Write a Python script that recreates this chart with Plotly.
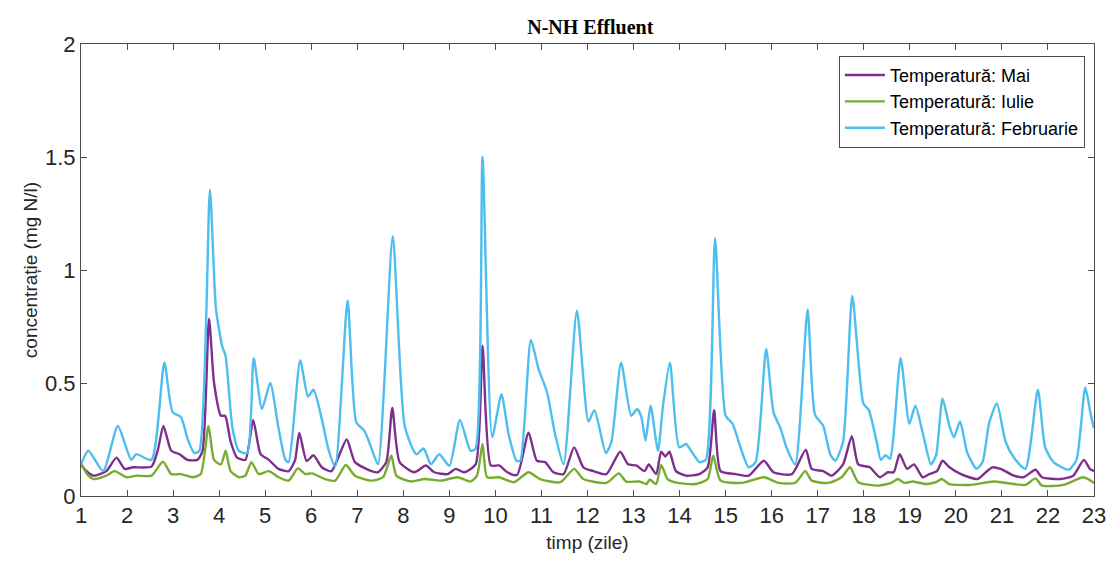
import plotly.graph_objects as go

# Temperatura: Februarie (blue)
feb_x = [1.0, 1.16, 1.48, 1.80, 2.09, 2.20, 2.53, 2.81, 2.99, 3.17, 3.32, 3.46, 3.57, 3.80, 3.93, 4.07, 4.14, 4.29, 4.43, 4.61,
         4.75, 4.93, 5.11, 5.29, 5.44, 5.51, 5.76, 5.93, 6.05, 6.23, 6.37, 6.52, 6.79, 6.98, 7.15, 7.31, 7.45, 7.77, 8.03, 8.28,
         8.44, 8.60, 8.78, 9.00, 9.23, 9.46, 9.57, 9.72, 9.93, 10.13, 10.29, 10.46, 10.54, 10.77, 10.94, 11.12, 11.30, 11.48,
         11.77, 12.02, 12.15, 12.40, 12.52, 12.73, 12.95, 13.08, 13.17, 13.26, 13.37, 13.53, 13.64, 13.79, 13.99, 14.14, 14.28,
         14.43, 14.57, 14.77, 15.00, 15.15, 15.33, 15.50, 15.65, 15.88, 16.04, 16.19, 16.33, 16.51, 16.78, 16.94, 17.12, 17.27,
         17.38, 17.55, 17.75, 17.99, 18.11, 18.28, 18.37, 18.47, 18.57, 18.80, 18.99, 19.12, 19.28, 19.46, 19.57, 19.71, 19.86,
         19.96, 20.09, 20.25, 20.45, 20.58, 20.72, 20.89, 21.08, 21.26, 21.51, 21.78, 21.94, 22.12, 22.45, 22.62, 22.81, 22.93, 23.0]
feb_y = [0.14, 0.20, 0.11, 0.31, 0.16, 0.185, 0.16, 0.59, 0.37, 0.35, 0.25, 0.19, 0.20, 1.355, 0.83, 0.66, 0.62, 0.30, 0.20, 0.19,
         0.61, 0.385, 0.50, 0.30, 0.16, 0.15, 0.60, 0.44, 0.47, 0.34, 0.21, 0.13, 0.865, 0.325, 0.29, 0.21, 0.14, 1.15, 0.31, 0.185,
         0.21, 0.14, 0.185, 0.134, 0.337, 0.20, 0.21, 1.50, 0.26, 0.45, 0.27, 0.156, 0.156, 0.69, 0.56, 0.46, 0.27, 0.14,
         0.82, 0.33, 0.38, 0.19, 0.24, 0.59, 0.355, 0.385, 0.35, 0.245, 0.40, 0.20, 0.40, 0.59, 0.215, 0.23, 0.19,
         0.15, 0.16, 1.14, 0.355, 0.32, 0.21, 0.127, 0.15, 0.65, 0.37, 0.30, 0.21, 0.14, 0.825, 0.36, 0.31, 0.185,
         0.156, 0.24, 0.885, 0.41, 0.38, 0.24, 0.16, 0.18, 0.165, 0.61, 0.32, 0.40, 0.28, 0.14, 0.18, 0.43, 0.31,
         0.26, 0.33, 0.19, 0.12, 0.15, 0.32, 0.41, 0.24, 0.17, 0.12, 0.47, 0.215, 0.15, 0.116, 0.16, 0.48, 0.36, 0.30]

# Temperatura: Mai (purple)
mai_x = [1.0, 1.12, 1.27, 1.55, 1.77, 1.95, 2.13, 2.53, 2.67, 2.79, 2.96, 3.14, 3.31, 3.53, 3.64, 3.78, 3.89, 4.04, 4.13, 4.25,
         4.39, 4.57, 4.74, 4.90, 5.08, 5.29, 5.51, 5.65, 5.74, 5.90, 6.05, 6.23, 6.44, 6.77, 6.95, 7.31, 7.45, 7.63, 7.76, 7.92,
         8.24, 8.49, 8.67, 8.96, 9.14, 9.32, 9.57, 9.72, 9.90, 10.08, 10.26, 10.47, 10.72, 10.90, 11.08, 11.26, 11.48, 11.71,
         11.91, 12.13, 12.41, 12.71, 12.88, 13.06, 13.24, 13.33, 13.49, 13.60, 13.69, 13.78, 13.92, 14.14, 14.43, 14.61, 14.75,
         14.89, 15.22, 15.50, 15.83, 16.04, 16.44, 16.74, 16.87, 17.12, 17.30, 17.55, 17.74, 17.88, 18.13, 18.35, 18.52, 18.65,
         18.78, 18.94, 19.09, 19.28, 19.42, 19.59, 19.71, 19.86, 20.11, 20.47, 20.65, 20.79, 20.97, 21.26, 21.47, 21.73, 21.87,
         22.27, 22.55, 22.78, 22.91, 23.0]
mai_y = [0.14, 0.11, 0.09, 0.11, 0.17, 0.12, 0.127, 0.13, 0.205, 0.31, 0.20, 0.185, 0.16, 0.16, 0.20, 0.785, 0.50, 0.355, 0.355, 0.24,
         0.17, 0.16, 0.335, 0.185, 0.16, 0.12, 0.11, 0.16, 0.28, 0.155, 0.18, 0.127, 0.11, 0.25, 0.15, 0.11, 0.105, 0.15, 0.39, 0.15,
         0.105, 0.135, 0.105, 0.097, 0.12, 0.105, 0.14, 0.665, 0.135, 0.135, 0.105, 0.093, 0.28, 0.156, 0.15, 0.105, 0.097, 0.215,
         0.127, 0.11, 0.097, 0.196, 0.14, 0.135, 0.11, 0.14, 0.097, 0.196, 0.175, 0.196, 0.11, 0.09, 0.097, 0.127, 0.38,
         0.11, 0.097, 0.09, 0.156, 0.105, 0.097, 0.205, 0.12, 0.11, 0.09, 0.14, 0.265, 0.14, 0.127, 0.083, 0.105, 0.105,
         0.185, 0.12, 0.14, 0.083, 0.097, 0.11, 0.156, 0.127, 0.097, 0.075, 0.105, 0.127, 0.12, 0.09, 0.083, 0.116, 0.083,
         0.075, 0.09, 0.16, 0.12, 0.11]

# Temperatura: Iulie (green)
iul_x = [1.0, 1.16, 1.27, 1.55, 1.73, 1.99, 2.20, 2.53, 2.78, 2.96, 3.17, 3.42, 3.60, 3.77, 3.89, 4.04, 4.14, 4.25, 4.43, 4.57,
         4.70, 4.86, 5.08, 5.29, 5.51, 5.71, 5.87, 6.02, 6.30, 6.52, 6.75, 6.95, 7.31, 7.56, 7.74, 7.85, 8.17, 8.46, 8.82, 9.18,
         9.46, 9.60, 9.72, 9.82, 10.08, 10.40, 10.72, 10.97, 11.41, 11.71, 11.91, 12.41, 12.68, 12.84, 13.13, 13.28, 13.35,
         13.49, 13.60, 13.74, 13.96, 14.35, 14.61, 14.73, 14.89, 15.36, 15.83, 16.15, 16.51, 16.73, 16.87, 17.23, 17.52, 17.70,
         17.88, 18.31, 18.60, 18.74, 18.88, 19.06, 19.35, 19.57, 19.69, 19.86, 20.29, 20.83, 21.26, 21.51, 21.73, 21.87, 22.34,
         22.77, 23.0]
iul_y = [0.14, 0.09, 0.075, 0.09, 0.11, 0.083, 0.09, 0.09, 0.152, 0.097, 0.097, 0.083, 0.097, 0.31, 0.16, 0.14, 0.20, 0.11, 0.083, 0.09,
         0.15, 0.097, 0.11, 0.083, 0.068, 0.122, 0.097, 0.10, 0.075, 0.068, 0.137, 0.09, 0.068, 0.083, 0.178, 0.09, 0.064, 0.075, 0.068, 0.083,
         0.064, 0.09, 0.23, 0.083, 0.083, 0.061, 0.105, 0.075, 0.061, 0.12, 0.075, 0.058, 0.10, 0.064, 0.064, 0.053, 0.072,
         0.053, 0.137, 0.075, 0.058, 0.053, 0.075, 0.178, 0.068, 0.058, 0.083, 0.058, 0.058, 0.11, 0.068, 0.058, 0.083, 0.127,
         0.061, 0.046, 0.058, 0.075, 0.058, 0.064, 0.053, 0.061, 0.075, 0.053, 0.049, 0.064, 0.053, 0.049, 0.078, 0.046, 0.049,
         0.083, 0.058]

x_ticks = list(range(1, 24))
y_ticks = [0, 0.5, 1, 1.5, 2]
y_tick_labels = ["0", "0.5", "1", "1.5", "2"]

fig = go.Figure()
series = [
    ("Temperatură: Mai", mai_x, mai_y, "#7E2F8E"),
    ("Temperatură: Iulie", iul_x, iul_y, "#77AC30"),
    ("Temperatură: Februarie", feb_x, feb_y, "#4DBEEE"),
]
for name, xs, ys, col in series:
    fig.add_trace(go.Scatter(x=xs, y=ys, mode="lines", name=name,
                             line=dict(color=col, width=2.4, shape="spline", smoothing=0.6)))

axis_common = dict(showline=True, linecolor="#4d4d4d", linewidth=1, mirror="allticks",
                   ticks="inside", ticklen=6, tickcolor="#4d4d4d", showgrid=False, zeroline=False,
                   tickfont=dict(family="Liberation Sans, Arial", size=22, color="#262626"))

fig.update_layout(
    width=1118, height=562,
    margin=dict(l=81, r=17, t=44, b=65),
    paper_bgcolor="white", plot_bgcolor="white",
    title=dict(text="<b>N-NH Effluent</b>", x=0.528, xanchor="center", y=0.952, yanchor="middle",
               font=dict(family="Liberation Serif, Times New Roman", size=20, color="black")),
    xaxis=dict(range=[1, 23], tickvals=x_ticks,
               title=dict(text="timp (zile)", standoff=8,
                          font=dict(family="Liberation Sans, Arial", size=19, color="#262626")),
               **axis_common),
    yaxis=dict(range=[0, 2], tickvals=y_ticks, ticktext=y_tick_labels,
               title=dict(text="concentrație (mg N/l)", standoff=2,
                          font=dict(family="Liberation Sans, Arial", size=19, color="#262626")),
               **axis_common),
    legend=dict(x=0.991, y=0.974, xanchor="right", yanchor="top",
                bgcolor="white", bordercolor="#4d4d4d", borderwidth=1,
                font=dict(family="Liberation Sans, Arial", size=18, color="black"),
                tracegroupgap=0, itemwidth=40),
    showlegend=True,
)

fig.write_html("out.html")
